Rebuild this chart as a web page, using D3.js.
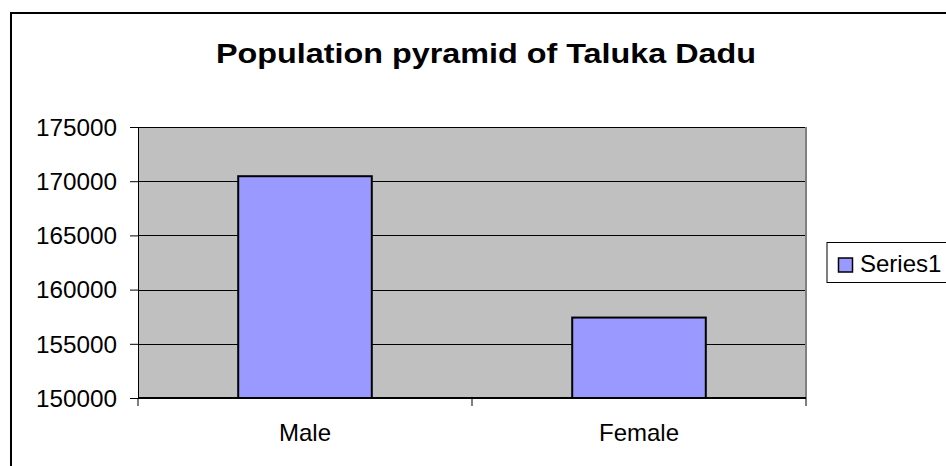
<!DOCTYPE html>
<html>
<head>
<meta charset="utf-8">
<script src="https://cdn.jsdelivr.net/npm/d3@7"></script>
<style>
  html, body { margin: 0; padding: 0; background: #fff; }
  svg { display: block; }
  text { font-family: Arial, "Liberation Sans", sans-serif; fill: #000; }
</style>
</head>
<body>
<svg id="chart" width="946" height="466"></svg>
<script>
const title = "Population pyramid of Taluka Dadu";
const categories = ["Male", "Female"];
const values = [170460, 157420];
const yTicks = [150000, 155000, 160000, 165000, 170000, 175000];
const seriesName = "Series1";

const svg = d3.select("#chart");

// outer chart border (extends beyond right/bottom edges)
svg.append("rect").attr("x", 11).attr("y", 13).attr("width", 980).attr("height", 500)
  .attr("fill", "#fff").attr("stroke", "#000").attr("stroke-width", 2);

const plot = { left: 138, right: 806, top: 127, bottom: 398 };

const y = d3.scaleLinear().domain([yTicks[0], yTicks[yTicks.length - 1]])
  .range([plot.bottom, plot.top]);
const x = d3.scaleBand().domain(categories).range([plot.left, plot.right])
  .paddingInner(0.6).paddingOuter(0.3);

// plot area background
svg.append("rect").attr("x", plot.left).attr("y", plot.top)
  .attr("width", plot.right - plot.left).attr("height", plot.bottom - plot.top)
  .attr("fill", "#C0C0C0");

// gridlines
svg.append("g").selectAll("line").data(yTicks.slice(1)).join("line")
  .attr("x1", plot.left).attr("x2", plot.right)
  .attr("y1", d => Math.round(y(d)) + 0.5).attr("y2", d => Math.round(y(d)) + 0.5)
  .attr("stroke", "#000").attr("stroke-width", 1);

// right plot border
svg.append("line").attr("x1", plot.right).attr("x2", plot.right)
  .attr("y1", plot.top).attr("y2", plot.bottom)
  .attr("stroke", "#808080").attr("stroke-width", 2);

// bars
svg.append("g").selectAll("rect").data(values).join("rect")
  .attr("x", (d, i) => x(categories[i]))
  .attr("y", d => y(d))
  .attr("width", x.bandwidth())
  .attr("height", d => plot.bottom - y(d))
  .attr("fill", "#9999FF").attr("stroke", "#000").attr("stroke-width", 2);

// y axis
const yAxis = svg.append("g").attr("transform", `translate(${plot.left},0)`)
  .call(d3.axisLeft(y).tickValues(yTicks).tickSize(8).tickPadding(13).tickFormat(d3.format("d")));
yAxis.select(".domain").attr("stroke", "#000").attr("stroke-width", 1);
yAxis.selectAll(".tick line").attr("stroke", "#000");
yAxis.selectAll(".tick text").style("font-size", "23px")
  .attr("font-family", null).attr("dy", "0.36em")
  .attr("textLength", 81).attr("lengthAdjust", "spacingAndGlyphs");

// x axis line
svg.append("line").attr("x1", plot.left).attr("x2", plot.right)
  .attr("y1", plot.bottom).attr("y2", plot.bottom)
  .attr("stroke", "#000").attr("stroke-width", 2);
// x ticks at category boundaries
const boundaries = d3.range(categories.length + 1).map(i => plot.left + i * x.step());
svg.append("g").selectAll("line").data(boundaries).join("line")
  .attr("x1", d => d).attr("x2", d => d)
  .attr("y1", plot.bottom).attr("y2", plot.bottom + 8)
  .attr("stroke", "#000").attr("stroke-width", 1);
// category labels
svg.append("g").selectAll("text").data(categories).join("text")
  .attr("x", d => x(d) + x.bandwidth() / 2)
  .attr("y", 441)
  .attr("text-anchor", "middle")
  .style("font-size", "24px")
  .text(d => d);

// title
svg.append("text").attr("x", 486).attr("y", 63).attr("text-anchor", "middle")
  .style("font-size", "28px").style("font-weight", "bold")
  .attr("textLength", 540).attr("lengthAdjust", "spacingAndGlyphs")
  .text(title);

// legend
const lg = svg.append("g");
lg.append("rect").attr("x", 827).attr("y", 242.5).attr("width", 200).attr("height", 40)
  .attr("fill", "#fff").attr("stroke", "#000").attr("stroke-width", 1);
lg.append("rect").attr("x", 838.5).attr("y", 258).attr("width", 14).attr("height", 14)
  .attr("fill", "#9999FF").attr("stroke", "#000").attr("stroke-width", 1.5);
lg.append("text").attr("x", 860).attr("y", 272).style("font-size", "24px")
  .text(seriesName);
</script>
</body>
</html>
